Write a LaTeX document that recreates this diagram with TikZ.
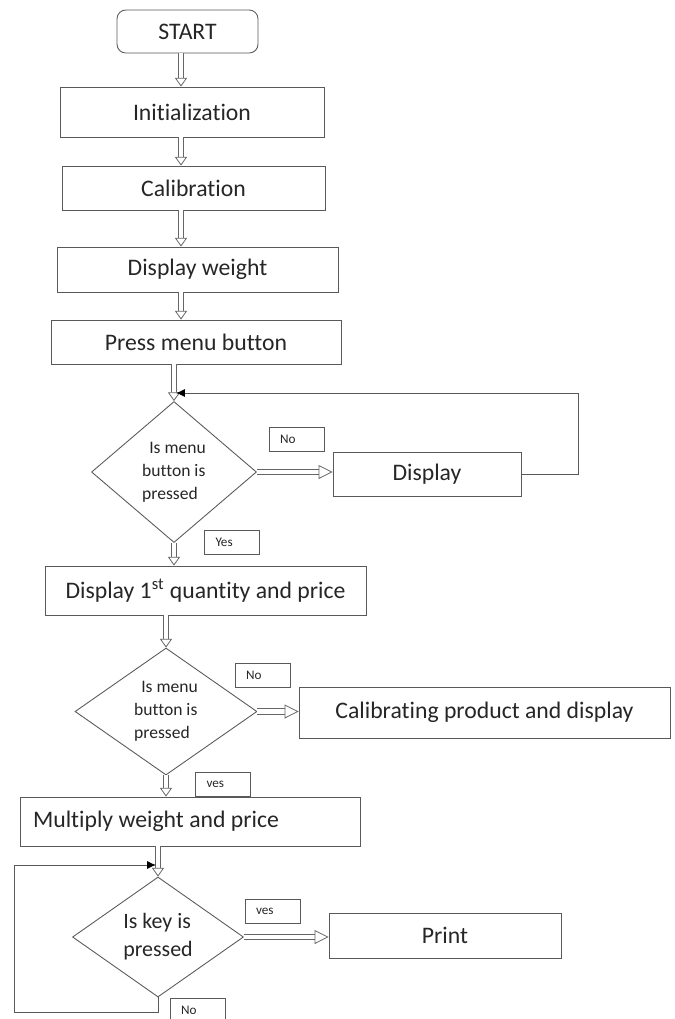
\documentclass[tikz,border=0pt]{standalone}
\usepackage{fontspec}
\setmainfont[Ligatures=NoCommon, RawFeature={-liga;-clig}]{Carlito}
\usetikzlibrary{shapes.geometric,arrows.meta}

\tikzset{
  block/.style 2 args={draw=black!65, line width=0.5pt, minimum width=#1*0.02cm,
    minimum height=#2*0.02cm, inner sep=0pt, text=black!85,
    font=\fontsize{13.5}{16}\selectfont},
  decision/.style 2 args={diamond, draw=black!65, line width=0.5pt,
    minimum width=#1*0.02cm, minimum height=#2*0.02cm, inner sep=0pt,
    text=black!85, align=flush left},
  tag/.style={draw=black!65, line width=0.4pt, text width=0.66cm, inner xsep=0.22cm,
    minimum height=0.48cm, inner ysep=0pt, align=flush left, text=black!85,
    font=\fontsize{7.5}{9}\selectfont},
  flow/.style={draw=black!60, line width=0.45pt, double=white, double distance=2pt,
    -{Triangle[open, length=5pt, width=7pt, line width=0.45pt]}},
  flowh/.style={flow, double distance=2.6pt,
    -{Triangle[open, length=8pt, width=8pt, line width=0.45pt]}},
  loopback/.style={draw=black!65, line width=0.5pt,
    -{Latex[length=5pt, width=4.5pt, color=black]}}
}

\begin{document}
\begin{tikzpicture}[x=0.02cm, y=-0.02cm]
\useasboundingbox (0,0) rectangle (675,1019);

% main column
\node[block={141}{43}, rounded corners=5pt] (start) at (187.5,31.5) {START};
\node[block={264}{50}] (init) at (192,112) {Initialization};
\node[block={263}{44}] (calib) at (193.5,188) {Calibration};
\node[block={281}{45}] (dispw) at (197.5,269.5) {Display weight};
\node[block={290}{44}] (press) at (196,342) {Press menu button};
\node[decision={165}{141}, font=\fontsize{10}{13}\selectfont] (d1) at (174,472)
  {\hspace*{4pt}Is menu\\button is\\pressed};
\node[block={321}{49}] (qty) at (205.5,590.5) {Display 1\textsuperscript{st} quantity and price};
\node[decision={182}{127}, font=\fontsize{10}{13}\selectfont] (d2) at (166,711.5)
  {\hspace*{4pt}Is menu\\button is\\pressed};
\node[block={340}{49}, text width=6.28cm, inner xsep=0.26cm, align=flush left] (mult)
  at (190,821.5) {Multiply weight and price};
\node[decision={171}{120}, font=\fontsize{12.5}{16}\selectfont] (d3) at (158,937)
  {Is key is\\pressed};

% side boxes
\node[block={188}{44}] (disp) at (427,474) {Display};
\node[block={371}{51}] (calprod) at (484.5,712.5) {Calibrating product and display};
\node[block={232}{45}] (print) at (445,935.5) {Print};

% answers
\node[tag] (no1) at (296.5,439) {No};
\node[tag] (yes1) at (232,542.5) {Yes};
\node[tag] (no2) at (262.5,675.5) {No};
\node[tag] (yes2) at (223,784) {ves};
\node[tag] (yes3) at (272.5,911) {ves};
\node[tag] (no3) at (197.5,1010) {No};

% arrows
\coordinate (spine) at (181,0);
\draw[flow] (start.south -| spine) -- (init.north -| spine);
\draw[flow] (init.south -| spine) -- (calib.north -| spine);
\draw[flow] (calib.south -| spine) -- (dispw.north -| spine);
\draw[flow] (dispw.south -| spine) -- (press.north -| spine);
\draw[flow] (press.south -| d1.north) -- (d1.north);
\draw[flow] (d1.south) -- (qty.north -| d1.south);
\draw[flow] (qty.south -| d2.north) -- (d2.north);
\draw[flow] (d2.south) -- (mult.north -| d2.south);
\draw[flow] (mult.south -| d3.north) -- (d3.north);

\draw[flowh] (d1.east) -- (disp.west |- d1.east);
\draw[flowh] (d2.east) -- (calprod.west |- d2.east);
\draw[flowh] (d3.east) -- (print.west |- d3.east);

% loops back
\coordinate (back1) at (176,393);
\draw[loopback] (disp.east) -- ++(57,0) |- (back1);
\coordinate (back2) at (156,865);
\draw[loopback] (d3.south) -- ++(0,15) -- ++(-144,0) |- (back2);
\end{tikzpicture}
\end{document}
